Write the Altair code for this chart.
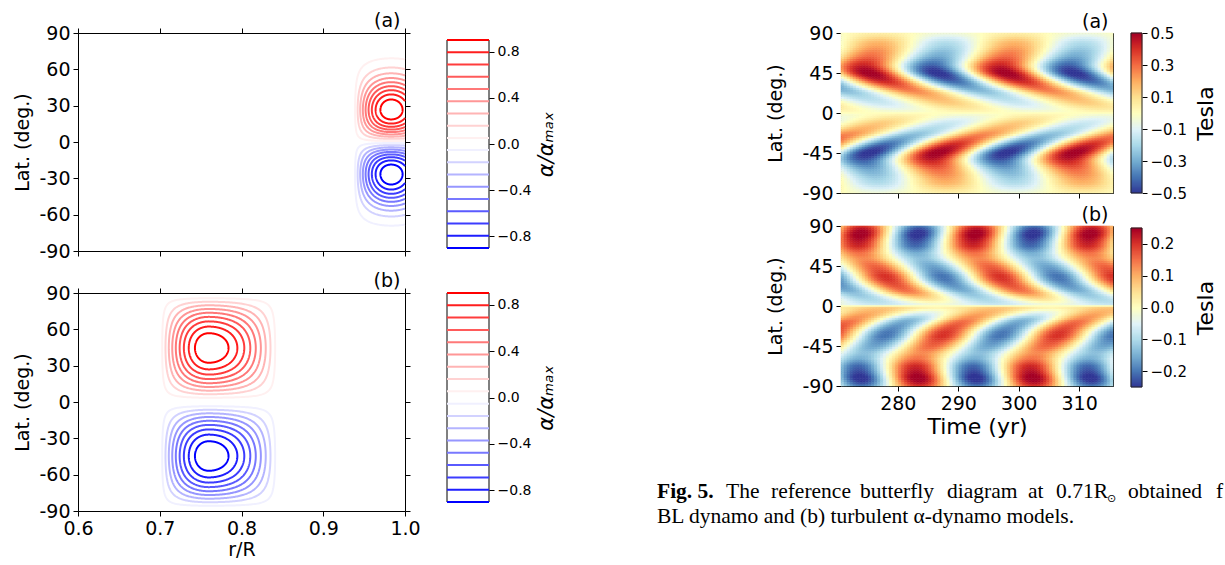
import numpy as np
import pandas as pd
import altair as alt

alt.data_transformers.disable_max_rows()
FONT = "DejaVu Sans"
SERIF = "Liberation Serif"
W, H = 1225, 565

# ---------------- left column: alpha profiles ----------------
LEVELS = [-0.9, -0.794, -0.688, -0.582, -0.476, -0.371, -0.265, -0.159, -0.053,
          0.053, 0.159, 0.265, 0.371, 0.476, 0.582, 0.688, 0.794, 0.9]
CB_TICKS = [-0.8, -0.4, 0.0, 0.4, 0.8]
CB_X = [0, 1]
# radial bump of alpha: [centre r/R, inner half width, outer half width]
ALPHA_A_RADIAL = [0.983, 0.0456, 0.049]
ALPHA_B_RADIAL = [0.760, 0.059, 0.084]
# latitudinal shape: (a) peak latitude of a sin*cos^4 profile, (b) bump [centre, half width]
ALPHA_A_LAT_PEAK = 26.565
ALPHA_B_LAT = [44.6, 42.5]
R_RANGE = [0.6, 1.0]
R_TICKS = [0.6, 0.7, 0.8, 0.9, 1.0]
LAT_TICKS_L = [-90, -60, -30, 0, 30, 60, 90]

# ---------------- right column: butterfly diagrams ----------------
LAT_TICKS_R = [-90, -45, 0, 45, 90]
TIME_TICKS = [280, 290, 300, 310]
TIME_RANGE = [270.6, 315.6]
LAT_ROWS = [0, 2.5, 5, 7.5, 10, 12.5, 15, 17.5, 20, 22.5, 25, 27.5, 30, 32.5, 35, 37.5,
            40, 42.5, 45, 47.5, 50, 52.5, 55, 57.5, 60, 62.5, 65, 67.5, 70, 72.5, 75,
            77.5, 80, 82.5, 85, 87.5, 90]
# (a) BL dynamo: amplitude and phase lag (yr) per latitude row
BA_PERIOD = 22.6
BA_PEAK = 275.4
BA_AMP = [0.0, 0.035, 0.07, 0.10, 0.13, 0.15, 0.17, 0.19, 0.21, 0.24, 0.27, 0.30, 0.33,
          0.37, 0.41, 0.45, 0.48, 0.51, 0.52, 0.51, 0.49, 0.46, 0.42, 0.39, 0.36, 0.33,
          0.30, 0.28, 0.26, 0.24, 0.22, 0.20, 0.18, 0.15, 0.12, 0.08, 0.05]
BA_LAG = [17.0, 16.2, 15.4, 14.5, 13.5, 12.5, 11.5, 10.4, 9.3, 8.2, 7.0, 5.8, 4.7, 3.7,
          2.8, 2.0, 1.3, 0.6, 0.0, -0.5, -0.8, -1.0, -1.0, -0.8, -0.5, -0.2, 0.1, 0.4,
          0.7, 0.9, 1.1, 1.2, 1.3, 1.4, 1.5, 1.5, 1.5]
BA_OFF = [0.0] * 37
# (b) turbulent alpha dynamo
BB_PERIOD = 19.0
BB_PEAK = 273.8
BB_AMP = [0.0, 0.03, 0.05, 0.07, 0.09, 0.11, 0.13, 0.15, 0.16, 0.17, 0.18, 0.19, 0.20,
          0.20, 0.20, 0.19, 0.18, 0.17, 0.16, 0.15, 0.14, 0.13, 0.13, 0.14, 0.15, 0.17,
          0.19, 0.21, 0.22, 0.23, 0.24, 0.25, 0.26, 0.26, 0.25, 0.23, 0.20]
BB_LAG = [13.5, 12.6, 11.8, 10.9, 10.0, 9.1, 8.3, 7.5, 6.8, 6.1, 5.5, 5.0, 4.6, 4.3,
          4.0, 3.7, 3.3, 2.9, 2.5, 2.0, 1.5, 1.0, 0.5, 0.2, -0.1, -0.2, -0.3, -0.3,
          -0.3, -0.25, -0.2, -0.1, 0.0, 0.1, 0.2, 0.25, 0.3]
BB_OFF = [0.0, -0.045, -0.04, -0.03, -0.02, -0.01] + [0.0] * 31
TESLA_A_TICKS = [-0.5, -0.3, -0.1, 0.1, 0.3, 0.5]
TESLA_B_TICKS = [-0.2, -0.1, 0.0, 0.1, 0.2]
RDYLBU_R = ["#313695", "#4575b4", "#74add1", "#abd9e9", "#e0f3f8", "#ffffbf",
            "#fee090", "#fdae61", "#f46d43", "#d73027", "#a50026"]

# ---------------- caption (justified first line, words placed one by one) ----------------
CAPTION_LINE1 = ["Fig. 5.", "The", "reference", "butterfly", "diagram", "at", "0.71R",
                 "obtained", "f"]
CAPTION_LINE2 = "BL dynamo and (b) turbulent α-dynamo models."

# ---------------- layout (pixel boxes of the panels) ----------------
BOX_LA = dict(x=[78, 405], y=[251, 33])
BOX_LB = dict(x=[78, 405], y=[511, 293])
BOX_CA = dict(x=[447, 489], y=[248, 40])
BOX_CB = dict(x=[447, 489], y=[502, 293])
BOX_RA = dict(x=[841, 1113], y=[193, 33])
BOX_RB = dict(x=[841, 1113], y=[386, 226])
BOX_TA = dict(x=[1131, 1142], y=[193, 33])
BOX_TB = dict(x=[1131, 1142], y=[387, 228])
CAPTION_X1 = [657, 726, 771, 860, 947, 1028, 1056, 1128, 1216]
CAPTION_SUN_X = 1107


# ---------------- derived tables ----------------
def bump(x, c, hl, hr):
    d = x - c
    h = np.where(d < 0, hl, hr)
    u = np.clip(np.abs(d) / h, 0, 1)
    return np.cos(0.5 * np.pi * u)


def lat_a(l):
    lr = np.radians(l)
    p = np.radians(ALPHA_A_LAT_PEAK)
    v = np.sin(lr) * np.cos(lr) ** 4 / (np.sin(p) * np.cos(p) ** 4)
    return np.where((l > 0) & (l < 90), v, 0.0)


def clip_r(rr, ll, rmax):
    segs, cur = [], []
    n = len(rr)
    for k in range(n):
        pin = rr[k] <= rmax
        if pin:
            cur.append((rr[k], ll[k]))
        if k + 1 < n:
            qin = rr[k + 1] <= rmax
            if pin != qin:
                t = (rmax - rr[k]) / (rr[k + 1] - rr[k])
                cur.append((rmax, ll[k] + t * (ll[k + 1] - ll[k])))
                if pin:
                    segs.append(cur)
                    cur = []
    if cur:
        segs.append(cur)
    return segs


def contours(fr, gl, rc, lc, tag):
    kx, ky = 327 / 0.4, 218 / 180
    th = np.linspace(0, 2 * np.pi, 361)
    recs = []
    for c in [v for v in LEVELS if v > 0]:
        lo = np.zeros_like(th)
        hi = np.full_like(th, 500.0)
        for _ in range(50):
            mid = 0.5 * (lo + hi)
            val = fr(rc + mid * np.cos(th) / kx) * gl(lc + mid * np.sin(th) / ky)
            ins = val >= c
            lo = np.where(ins, mid, lo)
            hi = np.where(ins, hi, mid)
        rr = rc + lo * np.cos(th) / kx
        ll = lc + lo * np.sin(th) / ky
        segs = clip_r(rr, ll, R_RANGE[1])
        for sgn in (1, -1):
            for si, seg in enumerate(segs):
                cid = f"{tag}{sgn}_{c}_{si}"
                for k, (r, l) in enumerate(seg):
                    recs.append(dict(r=round(float(r), 5), lat=round(float(sgn * l), 4),
                                     level=sgn * c, cid=cid, ord=k))
    return pd.DataFrame(recs)


df_alpha_a = contours(lambda r: bump(r, *ALPHA_A_RADIAL), lat_a,
                      ALPHA_A_RADIAL[0], ALPHA_A_LAT_PEAK, "a")
df_alpha_b = contours(lambda r: bump(r, *ALPHA_B_RADIAL),
                      lambda l: bump(l, ALPHA_B_LAT[0], ALPHA_B_LAT[1], ALPHA_B_LAT[1]),
                      ALPHA_B_RADIAL[0], ALPHA_B_LAT[0], "b")


def butterfly(amp, lag, off, period, peak):
    dt = 0.5
    times = np.arange(TIME_RANGE[0], TIME_RANGE[1] - 1e-9, dt)
    recs = []
    for i, la in enumerate(LAT_ROWS):
        for sgn in ((1, -1) if la > 0 else (1,)):
            for t in times:
                tc = t + dt / 2
                b = amp[i] * np.cos(2 * np.pi * (tc - peak - lag[i]) / period) + off[i]
                if la == 0:
                    b = 0.0
                l0 = max(sgn * la - 1.25, -90)
                l1 = min(sgn * la + 1.25, 90)
                recs.append(dict(t0=round(float(t), 3),
                                 t1=round(float(min(t + dt, TIME_RANGE[1])), 3),
                                 l0=l0, l1=l1, B=round(float(sgn * b), 4)))
    return pd.DataFrame(recs)


df_bf_a = butterfly(BA_AMP, BA_LAG, BA_OFF, BA_PERIOD, BA_PEAK)
df_bf_b = butterfly(BB_AMP, BB_LAG, BB_OFF, BB_PERIOD, BB_PEAK)


# ---------------- helpers ----------------
def offset(orient, pos):
    return {"left": -pos, "right": pos - W, "top": -pos, "bottom": pos - H}[orient]


def axis(orient, pos, values=None, labels=True, ticks=True, domain=True,
         label_size=19, title_size=19, **kw):
    d = dict(orient=orient, offset=offset(orient, pos), domain=domain,
             domainColor="black", domainWidth=1, grid=False, ticks=ticks, tickSize=5,
             tickWidth=1, tickColor="black", labels=labels, labelFontSize=label_size,
             labelFont=FONT, labelColor="black", labelPadding=3, labelFlush=False,
             labelOverlap=False, titleFont=FONT, titleFontSize=title_size,
             titleFontWeight="normal", titleColor="black")
    if values is not None:
        d["values"] = values
    d.update(kw)
    return alt.Axis(**d)


def sc(domain, rng):
    return alt.Scale(domain=domain, range=rng, nice=False, zero=False)


BWR = alt.Scale(domain=[-0.9, 0, 0.9], range=["#0000ff", "#ffffff", "#ff0000"],
                interpolate="rgb")


def rdylbu(d):
    return alt.Scale(domain=[round(float(v), 4) for v in np.linspace(-d, d, 11)],
                     range=RDYLBU_R, interpolate="rgb", clamp=True)


HYPHEN = "'' + datum.value"


def alpha_layers(df, box, label, bottom):
    xs = sc(R_RANGE, box["x"])
    ys = sc([-90, 90], box["y"])
    main = alt.Chart(df).mark_line(strokeWidth=2).encode(
        x=alt.X("r:Q", scale=xs, title="r/R" if bottom else None,
                axis=axis("bottom", box["y"][0], R_TICKS, labels=bottom, format=".1f",
                          titlePadding=2)),
        y=alt.Y("lat:Q", scale=ys, title="Lat. (deg.)",
                axis=axis("left", box["x"][0], LAT_TICKS_L, labelExpr=HYPHEN,
                          titlePadding=6)),
        detail="cid:N", order="ord:Q",
        color=alt.Color("level:Q", scale=BWR, legend=None))
    corners = pd.DataFrame({"r": R_RANGE, "lat": [-90, 90]})
    frame = alt.Chart(corners).mark_point(opacity=0).encode(
        x=alt.X("r:Q", scale=xs, title=label,
                axis=axis("top", box["y"][1], R_TICKS, labels=False, titleAlign="right",
                          titleBaseline="alphabetic", titleX=box["x"][1] - 5, titleY=-7)),
        y=alt.Y("lat:Q", scale=ys, title=None,
                axis=axis("right", box["x"][1], LAT_TICKS_L, labels=False)))
    return [main, frame]


def alpha_cb_layers(box):
    xs = sc([0, 1], box["x"])
    ys = sc([min(LEVELS), max(LEVELS)], box["y"])
    box_df = pd.DataFrame({"x0": [CB_X[0]], "x1": [CB_X[1]],
                           "lo": [min(LEVELS)], "hi": [max(LEVELS)]})
    lev_df = pd.DataFrame({"level": LEVELS, "x0": CB_X[0], "x1": CB_X[1]})
    frame = alt.Chart(box_df).mark_rect(fill="white", stroke="black", strokeWidth=1).encode(
        x=alt.X("x0:Q", scale=xs, axis=None), x2="x1:Q",
        y=alt.Y("lo:Q", scale=ys, title="α/αₘₐₓ",
                axis=axis("right", box["x"][1], CB_TICKS, domain=False, format=".1f",
                          label_size=14, title_size=21, titleFontStyle="italic",
                          titleAngle=270, titleBaseline="top", titlePadding=5)),
        y2="hi:Q")
    lines = alt.Chart(lev_df).mark_rule(strokeWidth=2).encode(
        x=alt.X("x0:Q", scale=xs, axis=None), x2="x1:Q",
        y=alt.Y("level:Q", scale=ys, axis=None),
        color=alt.Color("level:Q", scale=BWR, legend=None))
    return [frame, lines]


def bfly_layers(df, box, label, bottom, d):
    xs = sc(TIME_RANGE, box["x"])
    ys = sc([-90, 90], box["y"])
    cs = rdylbu(d)
    heat = alt.Chart(df).mark_rect(strokeWidth=0.6).encode(
        x=alt.X("t0:Q", scale=xs, title="Time (yr)" if bottom else None,
                axis=axis("bottom", box["y"][0], TIME_TICKS, labels=bottom, format="d",
                          title_size=22, titlePadding=3)),
        x2="t1:Q",
        y=alt.Y("l0:Q", scale=ys, title="Lat. (deg.)",
                axis=axis("left", box["x"][0], LAT_TICKS_R, labelExpr=HYPHEN,
                          titlePadding=16)),
        y2="l1:Q",
        fill=alt.Fill("B:Q", scale=cs, legend=None),
        stroke=alt.Stroke("B:Q", scale=cs, legend=None))
    corners = pd.DataFrame({"t": TIME_RANGE, "lat": [-90, 90]})
    frame = alt.Chart(corners).mark_point(opacity=0).encode(
        x=alt.X("t:Q", scale=xs, title=label,
                axis=axis("top", box["y"][1], TIME_TICKS, labels=False, ticks=False,
                          titleAlign="right", titleBaseline="alphabetic",
                          titleX=box["x"][1] - 5, titleY=-6)),
        y=alt.Y("lat:Q", scale=ys, title=None,
                axis=axis("right", box["x"][1], LAT_TICKS_R, labels=False, ticks=False)))
    return [heat, frame]


def tesla_layers(box, d, ticks):
    xs = sc([0, 1], box["x"])
    ys = sc([-d, d], box["y"])
    cs = rdylbu(d)
    edges = np.linspace(-d, d, 161)
    g = pd.DataFrame({"v0": edges[:-1], "v1": edges[1:],
                      "v": 0.5 * (edges[:-1] + edges[1:]), "x0": CB_X[0], "x1": CB_X[1]})
    grad = alt.Chart(g).mark_rect(strokeWidth=0.6).encode(
        x=alt.X("x0:Q", scale=xs, axis=None), x2="x1:Q",
        y=alt.Y("v0:Q", scale=ys, title="Tesla",
                axis=axis("right", box["x"][1], ticks, domain=False, format=".1f",
                          label_size=15, title_size=22, titleAngle=270,
                          titleBaseline="top", titlePadding=9)),
        y2="v1:Q",
        fill=alt.Fill("v:Q", scale=cs, legend=None),
        stroke=alt.Stroke("v:Q", scale=cs, legend=None))
    box_df = pd.DataFrame({"x0": [CB_X[0]], "x1": [CB_X[1]], "lo": [-d], "hi": [d]})
    frame = alt.Chart(box_df).mark_rect(fill="transparent", stroke="#222222",
                                        strokeWidth=1).encode(
        x=alt.X("x0:Q", scale=xs, axis=None), x2="x1:Q",
        y=alt.Y("lo:Q", scale=ys, axis=None), y2="hi:Q")
    return [grad, frame]


def caption_layers():
    base = alt.Chart(pd.DataFrame({"k": [0]}))
    style = dict(font=SERIF, fontSize=21.5, align="left", baseline="alphabetic",
                 color="black")
    out = []
    for i, (word, x) in enumerate(zip(CAPTION_LINE1, CAPTION_X1)):
        extra = {"fontWeight": "bold"} if i == 0 else {}
        out.append(base.mark_text(text=word, **style, **extra).encode(
            x=alt.value(x), y=alt.value(498)))
    out.append(base.mark_text(text="⊙", font=FONT, fontSize=11, align="left",
                              baseline="alphabetic", color="black").encode(
        x=alt.value(CAPTION_SUN_X), y=alt.value(502)))
    out.append(base.mark_text(text=CAPTION_LINE2, **style).encode(
        x=alt.value(657), y=alt.value(523)))
    return out


layers = []
layers += alpha_layers(df_alpha_a, BOX_LA, "(a)", False)
layers += alpha_layers(df_alpha_b, BOX_LB, "(b)", True)
layers += alpha_cb_layers(BOX_CA)
layers += alpha_cb_layers(BOX_CB)
layers += bfly_layers(df_bf_a, BOX_RA, "(a)", False, 0.5)
layers += bfly_layers(df_bf_b, BOX_RB, "(b)", True, 0.25)
layers += tesla_layers(BOX_TA, 0.5, TESLA_A_TICKS)
layers += tesla_layers(BOX_TB, 0.25, TESLA_B_TICKS)
layers += caption_layers()

chart = alt.layer(*layers).resolve_scale(
    x="independent", y="independent", color="independent", fill="independent",
    stroke="independent"
).properties(
    width=W, height=H, autosize=alt.AutoSizeParams(type="none"), padding=0
).configure(font=FONT, background="white").configure_view(stroke="transparent")

chart.save("out.html", embed_options={"renderer": "svg", "actions": False})
